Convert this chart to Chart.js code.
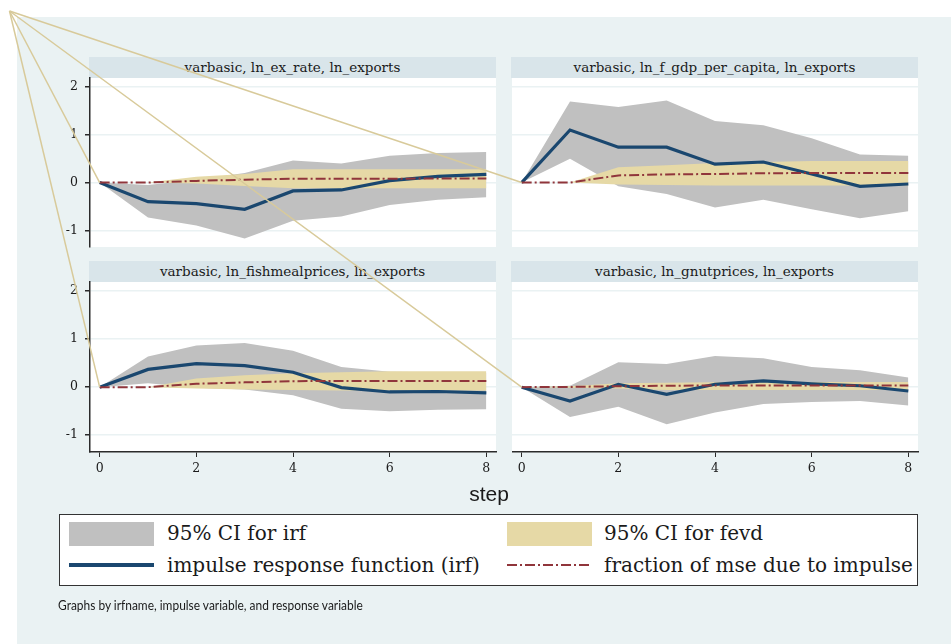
<!DOCTYPE html>
<html>
<head>
    <title>varbasic: irf and fevd on ln_exports</title>
    <style>
        body { margin: 0; background: #fff; font-family: "DejaVu Serif", serif; color: #1a1a1a; }
        #graphRegion { position: absolute; left: 17px; top: 17px; width: 934px; height: 627px; background: #eaf2f3; }
        .strip { position: absolute; height: 21px; line-height: 21px; background: #d9e5ea; text-align: center; font-size: 13.5px; white-space: nowrap; }
        canvas.panel { position: absolute; }
        #overlay { position: absolute; left: 0; top: 0; pointer-events: none; }
        .abs { position: absolute; }
        .legText { position: absolute; height: 24px; line-height: 24px; font-size: 20px; white-space: nowrap; }
        #stepTitle { position: absolute; left: 439px; top: 482px; width: 100px; text-align: center; font: 21px "Liberation Sans", sans-serif; }
        #note { position: absolute; left: 58px; top: 597px; font: 13px Lato, sans-serif; white-space: nowrap; transform-origin: left top; }
    </style>
    <script src="https://cdn.jsdelivr.net/npm/chart.js"></script>
</head>
<body>
<div id="graphRegion"></div>

<script>
// ---- data ----
const steps = [0, 1, 2, 3, 4, 5, 6, 7, 8];
const xTicks = [0, 2, 4, 6, 8];
const yTicks = [-1, 0, 1, 2];

const panelTitles = [
    'varbasic, ln_ex_rate, ln_exports',
    'varbasic, ln_f_gdp_per_capita, ln_exports',
    'varbasic, ln_fishmealprices, ln_exports',
    'varbasic, ln_gnutprices, ln_exports'
];

// ln_ex_rate -> ln_exports
const irfExRate     = [0, -0.40, -0.44, -0.56, -0.175, -0.155, 0.04, 0.13, 0.17];
const irfLoExRate   = [0, -0.73, -0.90, -1.17, -0.80, -0.71, -0.47, -0.36, -0.31];
const irfHiExRate   = [0, -0.05, 0.06, 0.20, 0.46, 0.40, 0.56, 0.62, 0.64];
const fevdExRate    = [0, 0, 0.035, 0.06, 0.08, 0.08, 0.08, 0.085, 0.085];
const fevdLoExRate  = [0, 0, -0.02, -0.07, -0.12, -0.12, -0.12, -0.12, -0.12];
const fevdHiExRate  = [0, 0, 0.12, 0.18, 0.28, 0.28, 0.28, 0.28, 0.28];

// ln_f_gdp_per_capita -> ln_exports
const irfGdp     = [0, 1.10, 0.74, 0.74, 0.385, 0.43, 0.18, -0.08, -0.03];
const irfLoGdp   = [0, 0.50, -0.08, -0.24, -0.52, -0.36, -0.56, -0.75, -0.60];
const irfHiGdp   = [0, 1.70, 1.58, 1.72, 1.29, 1.20, 0.93, 0.59, 0.56];
const fevdGdp    = [0, 0, 0.15, 0.17, 0.18, 0.195, 0.20, 0.20, 0.20];
const fevdLoGdp  = [0, 0, -0.04, -0.05, -0.06, -0.06, -0.06, -0.06, -0.06];
const fevdHiGdp  = [0, 0, 0.32, 0.36, 0.41, 0.43, 0.45, 0.45, 0.45];

// ln_fishmealprices -> ln_exports
const irfFish     = [0, 0.37, 0.49, 0.45, 0.31, -0.01, -0.10, -0.09, -0.12];
const irfLoFish   = [0, 0.08, -0.01, -0.05, -0.17, -0.45, -0.50, -0.47, -0.46];
const irfHiFish   = [0, 0.64, 0.87, 0.92, 0.76, 0.42, 0.32, 0.31, 0.30];
const fevdFish    = [0, 0, 0.07, 0.10, 0.125, 0.13, 0.13, 0.13, 0.13];
const fevdLoFish  = [0, 0, -0.03, -0.05, -0.06, -0.07, -0.07, -0.07, -0.07];
const fevdHiFish  = [0, 0, 0.18, 0.25, 0.29, 0.31, 0.33, 0.33, 0.33];

// ln_gnutprices -> ln_exports
const irfGnut     = [0, -0.29, 0.06, -0.15, 0.06, 0.13, 0.07, 0.03, -0.08];
const irfLoGnut   = [0, -0.62, -0.41, -0.77, -0.53, -0.35, -0.31, -0.29, -0.38];
const irfHiGnut   = [0, 0.03, 0.52, 0.48, 0.65, 0.60, 0.42, 0.35, 0.20];
const fevdGnut    = [0, 0.005, 0.02, 0.03, 0.035, 0.035, 0.035, 0.035, 0.035];
const fevdLoGnut  = [0, -0.01, -0.03, -0.06, -0.06, -0.06, -0.06, -0.06, -0.06];
const fevdHiGnut  = [0, 0.02, 0.08, 0.09, 0.10, 0.11, 0.11, 0.11, 0.11];

const legendLabels = ['95% CI for irf', '95% CI for fevd', 'impulse response function (irf)', 'fraction of mse due to impulse'];

// ---- styles ----
const greyCI = '#c0c0c0';
const sandCI = '#e6d9a6';
const navy = '#1a476f';
const maroon = '#90353b';
const axisColor = '#2b2b2b';
const gridColor = '#eaf2f3';
const stray = '#d8ca9a';
const dashDot = [10, 3, 2, 3];

// plot areas in page pixels
const boxes = [
    { x: 90,  y: 78,  w: 406, h: 169, yAxis: true,  xAxis: false },
    { x: 512, y: 78,  w: 406, h: 169, yAxis: false, xAxis: false },
    { x: 90,  y: 282, w: 406, h: 170, yAxis: true,  xAxis: true },
    { x: 512, y: 282, w: 406, h: 170, yAxis: false, xAxis: true }
];
const pad = 20;

const panelData = [
    [irfHiExRate, irfLoExRate, fevdHiExRate, fevdLoExRate, irfExRate, fevdExRate],
    [irfHiGdp, irfLoGdp, fevdHiGdp, fevdLoGdp, irfGdp, fevdGdp],
    [irfHiFish, irfLoFish, fevdHiFish, fevdLoFish, irfFish, fevdFish],
    [irfHiGnut, irfLoGnut, fevdHiGnut, fevdLoGnut, irfGnut, fevdGnut]
];

const pts = arr => steps.map((s, i) => ({ x: s, y: arr[i] }));

const plotBg = {
    id: 'plotBg',
    beforeDraw(chart) {
        const a = chart.chartArea, ctx = chart.ctx;
        ctx.save();
        ctx.fillStyle = '#fff';
        ctx.fillRect(a.left, a.top, a.right - a.left, a.bottom - a.top);
        ctx.restore();
    }
};

const charts = [];

boxes.forEach((b, p) => {
    const strip = document.createElement('div');
    strip.className = 'strip';
    strip.style.left = (b.x - 1) + 'px';
    strip.style.top = (b.y - 21) + 'px';
    strip.style.width = (b.w + 1) + 'px';
    strip.textContent = panelTitles[p];
    document.body.appendChild(strip);

    const leftW = b.yAxis ? 50 : 0;
    const bottomH = b.xAxis ? 30 : pad;
    const canvas = document.createElement('canvas');
    canvas.className = 'panel';
    canvas.width = b.w + leftW + 10;
    canvas.height = b.h + pad + bottomH;
    canvas.style.left = (b.x - leftW) + 'px';
    canvas.style.top = (b.y - pad) + 'px';
    document.body.appendChild(canvas);

    const [hi, lo, fHi, fLo, irf, fevd] = panelData[p];
    const band = { borderWidth: 0, pointRadius: 0 };

    charts.push(new Chart(canvas.getContext('2d'), {
        type: 'line',
        data: {
            datasets: [
                { ...band, data: pts(hi), fill: { target: 1 }, backgroundColor: greyCI, order: 5 },
                { ...band, data: pts(lo), fill: false, order: 6 },
                { ...band, data: pts(fHi), fill: { target: 3 }, backgroundColor: sandCI, order: 3 },
                { ...band, data: pts(fLo), fill: false, order: 4 },
                { data: pts(irf), borderColor: navy, borderWidth: 3.2, pointRadius: 0, fill: false, order: 1 },
                { data: pts(fevd), borderColor: maroon, borderWidth: 2, borderDash: dashDot, pointRadius: 0, fill: false, order: 0 }
            ]
        },
        options: {
            responsive: false,
            devicePixelRatio: 1,
            animation: false,
            layout: { padding: { top: pad, right: 10, bottom: b.xAxis ? 0 : pad, left: 0 } },
            plugins: { legend: { display: false }, tooltip: { enabled: false } },
            scales: {
                x: {
                    type: 'linear',
                    min: -0.2,
                    max: 8.2,
                    display: b.xAxis,
                    afterBuildTicks: s => { s.ticks = xTicks.map(v => ({ value: v })); },
                    afterFit: s => { s.height = b.xAxis ? 30 : 0; },
                    border: { display: true, color: axisColor, width: 1.5 },
                    grid: { drawOnChartArea: false, drawTicks: true, tickLength: 5, tickColor: axisColor },
                    ticks: { padding: 4, color: '#1a1a1a', font: { family: 'DejaVu Serif', size: 12.5 } }
                },
                y: {
                    min: -1.35,
                    max: 2.19,
                    afterBuildTicks: s => { s.ticks = yTicks.map(v => ({ value: v })); },
                    afterFit: s => { s.width = leftW; },
                    border: { display: b.yAxis, color: axisColor, width: 1.5 },
                    grid: { color: gridColor, lineWidth: 1.5, drawTicks: b.yAxis, tickLength: 5, tickColor: axisColor },
                    ticks: { display: b.yAxis, padding: 7, color: '#1a1a1a', font: { family: 'DejaVu Serif', size: 12.5 } }
                }
            }
        },
        plugins: [plotBg]
    }));
});

// stray outline lines running from the graph corner to each panel origin
const overlay = document.createElement('canvas');
overlay.id = 'overlay';
overlay.width = 951;
overlay.height = 644;
document.body.appendChild(overlay);
const octx = overlay.getContext('2d');
octx.strokeStyle = stray;
octx.lineWidth = 1.5;
charts.forEach(c => {
    const pt = c.getDatasetMeta(2).data[0];
    octx.beginPath();
    octx.moveTo(9.5, 11);
    octx.lineTo(c.canvas.offsetLeft + pt.x, c.canvas.offsetTop + pt.y);
    octx.stroke();
});

// legend
function add(html) {
    document.body.insertAdjacentHTML('beforeend', html);
}
add('<div class="abs" style="left:59px;top:514px;width:857px;height:70px;border:1px solid #333;background:#fff"></div>');
add(`<div class="abs" style="left:69px;top:522px;width:85px;height:24px;background:${greyCI}"></div>`);
add(`<div class="legText" style="left:167px;top:521px">${legendLabels[0]}</div>`);
add(`<div class="abs" style="left:507px;top:522px;width:85px;height:24px;background:${sandCI}"></div>`);
add(`<div class="legText" style="left:604px;top:521px">${legendLabels[1]}</div>`);
add(`<div class="abs" style="left:69px;top:563px;width:85px;height:4px;background:${navy}"></div>`);
add(`<div class="legText" style="left:167px;top:553px">${legendLabels[2]}</div>`);
add(`<svg class="abs" style="left:507px;top:560px" width="85" height="10"><line x1="0" y1="5" x2="85" y2="5" stroke="${maroon}" stroke-width="2.2" stroke-dasharray="${dashDot.join(' ')}"/></svg>`);
add(`<div class="legText" style="left:604px;top:553px">${legendLabels[3]}</div>`);

add('<div id="stepTitle">step</div>');
add('<div id="note">Graphs by irfname, impulse variable, and response variable</div>');
const note = document.getElementById('note');
note.style.transform = 'scaleX(' + (305 / note.offsetWidth) + ')';
</script>
</body>
</html>
